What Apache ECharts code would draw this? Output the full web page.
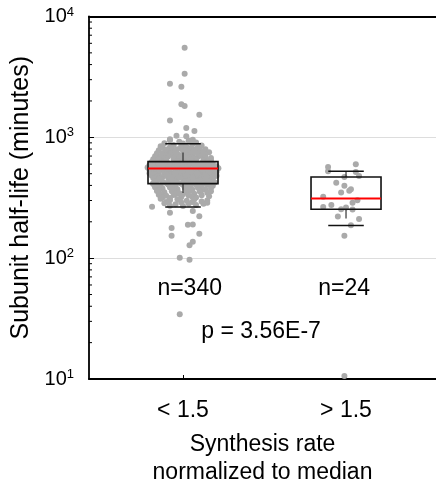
<!DOCTYPE html>
<html>
<head>
<meta charset="utf-8">
<style>html,body{margin:0;padding:0;background:#fff;}#chart{width:436px;height:491px;}</style>
<script src="https://cdn.jsdelivr.net/npm/echarts@6/dist/echarts.min.js"></script>
</head>
<body>
<div id="chart"></div>
<script>
// ---- data ----
const categories = ['< 1.5', '> 1.5'];
const countLabels = ['n=340', 'n=24'];
const pValueLabel = 'p = 3.56E-7';
const yTickValues = [10, 100, 1000, 10000];
const yMinorTicks = [20,30,40,50,60,70,80,90,200,300,400,500,600,700,800,900,2000,3000,4000,5000,6000,7000,8000,9000];

// box stats per group: [lowCap, lowWhiskerEnd, Q1, median, Q3, highWhiskerEnd, highCap]
const boxLow = [265, 186];
const whiskerLow = [347, 213];
const q1 = [414, 254];
const median = [551, 311];
const q3 = [630, 470];
const whiskerHigh = [748, 516];
const boxHigh = [887, 523];

// group "< 1.5", isolated points: [jitter (1/100 of category spacing), half-life]
const leftOuterPoints = [
[1,5510],[1,3361],[-8,2780],[-1,2624],[-1,1874],[1,1815],[10,1541],[-8,1375],[2,1194],[7,1128],[-4,1033],[2,1019],[-8,962],[6,957],
[-19,267],[-8,238],[6,246],[10,222],[-7,178],[3,189],[6,190],[-7,153],[10,159],[6,137],[4,128],[-2,101],[4,97],[-2,34.4]
];
// group "< 1.5", dense cloud: [jitter (1/175 of category spacing), half-life]
const leftCorePoints = [
[-14,948],[6,935],[-4,918],[14,905],[-20,895],[0,888],[10,872],[-10,865],[20,855],[-24,845],[-2,840],[4,832],[16,830],[-14,828],
[-22,820],[-12,812],[-2,815],[8,808],[18,800],[24,795],[-18,792],[-6,798],[12,790],[2,785],
[-26,780],[-16,775],[-8,770],[0,772],[6,765],[14,768],[22,760],[28,752],[-20,750],[-10,745],[10,748],[18,742],
[-28,738],[-22,730],[-14,735],[-6,728],[2,732],[10,725],[16,730],[24,722],[-18,712],[-2,708],[6,715],[20,705],[-10,702],
[-30,698],[-24,690],[-16,695],[-8,688],[0,692],[8,685],[16,690],[24,682],[30,676],[-20,672],[-4,670],[12,668],[4,675],
[-32,660],[-26,655],[-18,650],[-10,658],[-2,652],[6,648],[14,655],[22,650],[30,645],[-22,638],[-6,635],[10,640],[26,632],[2,630],
[-34,622],[-28,615],[-22,625],[-16,610],[-10,620],[-4,612],[2,618],[8,608],[14,622],[20,612],[26,618],[32,605],[-30,600],[-12,603],[6,600],[24,602],
[-36,590],[-26,595],[-20,585],[-14,592],[-6,580],[0,588],[6,582],[12,595],[18,578],[24,590],[30,584],[36,576],[-32,575],[-10,572],[4,570],[16,574],[-2,596],[28,571],
[-38,562],[-30,558],[-24,565],[-18,552],[-12,560],[-6,548],[0,556],[6,566],[10,545],[16,558],[22,550],[28,562],[34,548],[38,556],[-28,542],[-8,540],[14,541],[-16,568],[2,544],[26,543],
[-36,536],[-28,530],[-22,538],[-14,525],[-6,532],[2,520],[8,535],[14,526],[20,533],[26,522],[32,530],[36,518],[-32,516],[-18,518],[-2,528],[10,516],[24,538],[30,515],
[-34,510],[-26,505],[-20,512],[-12,498],[-4,508],[4,495],[10,504],[16,512],[22,496],[28,506],[34,500],[-30,492],[-8,490],[18,491],[0,514],[-16,506],
[-34,485],[-26,478],[-18,488],[-10,472],[-2,482],[6,470],[12,486],[18,475],[24,484],[30,468],[36,480],[-30,466],[-14,465],[2,478],[20,466],[-22,470],
[-32,460],[-24,452],[-16,462],[-8,446],[0,456],[8,442],[14,458],[20,448],[26,460],[32,444],[-28,440],[-12,455],[4,448],[18,441],[-4,462],[24,450],
[-30,435],[-22,428],[-14,438],[-6,420],[2,432],[10,425],[16,436],[22,418],[28,430],[34,422],[-32,416],[-18,418],[-2,415],[12,416],[-10,430],[6,438],
[-25,600],[15,585],[-5,560],[20,545],[-20,528],[5,505],[-15,480],[25,475],[-25,455],[10,465],[-8,505],[30,540],[-35,545],[35,530],[-3,575],
[12,550],[-18,495],[8,520],[22,602],[-26,612],[3,490],[-12,445],[17,425],[-36,505],[33,470],[-6,598],[27,592],[-22,584],[0,535],[15,500],[-16,548],
[-32,410],[-24,402],[-16,408],[-8,396],[0,405],[8,392],[14,404],[20,396],[26,408],[32,398],[-28,392],[-12,390],[4,412],[18,390],
[-30,386],[-22,378],[-14,384],[-6,372],[2,380],[10,368],[16,382],[24,372],[30,380],[-26,366],[-10,365],[6,386],[20,365],
[-28,360],[-20,352],[-12,358],[-4,345],[4,355],[12,342],[18,356],[26,348],[-24,340],[-8,340],[8,362],[30,358],
[-26,335],[-18,328],[-10,334],[-2,320],[6,330],[14,318],[20,332],[28,325],[-22,318],[0,338],[10,322],[-14,315],
[-24,310],[-14,302],[-6,308],[4,298],[12,306],[20,295],[-18,292],[26,300],[-2,290],
[-20,285],[-8,280],[6,284],[14,276],[22,282],[-14,272],[0,270],[26,288],[10,292]
];

// group "> 1.5": [jitter (1/100 of category spacing), half-life]
const rightPoints = [
[-11,568],[-11,524],[6,598],[6,516],[8,479],[-1,470],[-6,421],[-1,397],[3,372],[-3,349],[-14,322],[7,301],
[4,288],[-14,265],[-9,276],[-3,254],[0,262],[4,253],[-5,221],[8,211],[3,187],[-1,153],[-1,10.6],[2,362]
];

// ---- chart ----
const X_MIN = 0.4233, X_MAX = 2.552;
const FONT = "'Liberation Sans', Arial, Helvetica, sans-serif";
const chart = echarts.init(document.getElementById('chart'), null, {renderer: 'canvas'});

const toXY = (pts, center, unit) => pts.map(p => [center + p[0] / unit, p[1]]);
const leftData = toXY(leftCorePoints, 1, 175).concat(toXY(leftOuterPoints, 1, 100));
const rightData = toXY(rightPoints, 2, 100);
const boxData = categories.map((c, i) => [i + 1, boxLow[i], whiskerLow[i], q1[i], median[i], q3[i], whiskerHigh[i], boxHigh[i]]);

const option = {
  animation: false,
  textStyle: {fontFamily: FONT},
  grid: {left: 89, right: 0, top: 16.5, bottom: 112, containLabel: false, outerBoundsMode: 'none'},
  xAxis: [{
    type: 'value', min: X_MIN, max: X_MAX,
    axisLine: {show: true, onZero: false, lineStyle: {color: '#000', width: 1.8}},
    axisTick: {show: true, inside: true, length: 4, customValues: [1, 2], lineStyle: {color: '#000'}},
    axisLabel: {customValues: [1, 2], formatter: v => categories[Math.round(v) - 1], fontSize: 23, color: '#000', margin: 20, fontFamily: FONT},
    splitLine: {show: false},
    name: 'Synthesis rate\nnormalized to median', nameLocation: 'middle', nameGap: 52,
    nameTextStyle: {fontSize: 23, color: '#000', lineHeight: 28, fontFamily: FONT, verticalAlign: 'top'}
  }, {
    type: 'value', position: 'top', min: X_MIN, max: X_MAX,
    axisLine: {show: true, onZero: false, lineStyle: {color: '#000', width: 2}},
    axisTick: {show: false}, axisLabel: {show: false}, splitLine: {show: false}
  }],
  yAxis: {
    type: 'log', logBase: 10, min: 10, max: 10000,
    axisLine: {show: true, lineStyle: {color: '#000', width: 1.8}},
    axisTick: {show: true, inside: true, length: 5, lineStyle: {color: '#000'}},
    axisLabel: {
      margin: 15, color: '#000',
      formatter: v => '{a|10}{b|' + Math.round(Math.log10(v)) + '}',
      rich: {
        a: {fontSize: 20, lineHeight: 22, color: '#000', fontFamily: FONT},
        b: {fontSize: 13, lineHeight: 13, verticalAlign: 'top', color: '#000', fontFamily: FONT}
      }
    },
    splitLine: {show: true, lineStyle: {color: '#dddddd', width: 1}},
    name: 'Subunit half-life (minutes)', nameLocation: 'middle', nameGap: 48,
    nameTextStyle: {fontSize: 25, color: '#000', fontFamily: FONT}
  },
  series: [
    {
      type: 'scatter', name: categories[0], data: leftData,
      symbolSize: 6, itemStyle: {color: '#aaaaaa', opacity: 1}, silent: true
    },
    {
      type: 'scatter', name: categories[1], data: rightData,
      symbolSize: 6, itemStyle: {color: '#aaaaaa', opacity: 1}, silent: true
    },
    {
      type: 'custom', name: 'box', data: boxData, silent: true, z: 5,
      encode: {x: 0, y: [1, 2, 3, 4, 5, 6, 7]},
      renderItem: function (params, api) {
        const x = api.value(0);
        const c = v => api.coord([x, v]);
        const halfBox = api.size([0.2147, 0])[0];
        const halfCap = api.size([0.109, 0])[0];
        const pLowCap = c(api.value(1)), pLowW = c(api.value(2)), pQ1 = c(api.value(3)),
              pMed = c(api.value(4)), pQ3 = c(api.value(5)), pHighW = c(api.value(6)), pHighCap = c(api.value(7));
        const cx = pQ1[0];
        return {
          type: 'group',
          children: [
            {type: 'line', shape: {x1: cx, y1: pQ1[1], x2: cx, y2: pLowW[1]}, style: {stroke: '#333', lineWidth: 1.2}},
            {type: 'line', shape: {x1: cx, y1: pQ3[1], x2: cx, y2: pHighW[1]}, style: {stroke: '#333', lineWidth: 1.2}},
            {type: 'line', shape: {x1: cx - halfCap, y1: pLowCap[1], x2: cx + halfCap, y2: pLowCap[1]}, style: {stroke: '#111', lineWidth: 1.5}},
            {type: 'line', shape: {x1: cx - halfCap, y1: pHighCap[1], x2: cx + halfCap, y2: pHighCap[1]}, style: {stroke: '#111', lineWidth: 1.5}},
            {type: 'rect', shape: {x: cx - halfBox, y: pQ3[1], width: halfBox * 2, height: pQ1[1] - pQ3[1]}, style: {fill: 'none', stroke: '#111', lineWidth: 1.6}},
            {type: 'line', shape: {x1: cx - halfBox, y1: pMed[1], x2: cx + halfBox, y2: pMed[1]}, style: {stroke: '#ff0000', lineWidth: 2}}
          ]
        };
      }
    },
    {
      type: 'custom', name: 'minor ticks', silent: true, z: 6,
      data: yMinorTicks.map(v => [X_MIN, v]),
      renderItem: function (params, api) {
        const p = api.coord([api.value(0), api.value(1)]);
        return {type: 'line', shape: {x1: p[0], y1: p[1], x2: p[0] + 3, y2: p[1]}, style: {stroke: '#000', lineWidth: 1}};
      }
    },
    {
      type: 'custom', name: 'annotations', silent: true, z: 7,
      data: [[1.041, 55.5, 0], [1.988, 55.5, 1], [1.479, 24.7, 2]],
      renderItem: function (params, api) {
        const p = api.coord([api.value(0), api.value(1)]);
        const idx = api.value(2);
        const txt = idx < 2 ? countLabels[idx] : pValueLabel;
        return {type: 'text', x: p[0], y: p[1], style: {text: txt, fill: '#000', font: '23px ' + FONT, align: 'center', verticalAlign: 'middle'}};
      }
    }
  ]
};
chart.setOption(option);
</script>
</body>
</html>
